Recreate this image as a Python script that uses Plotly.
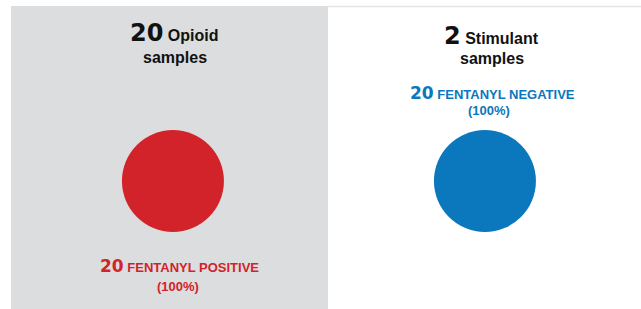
import plotly.graph_objects as go

# ---- data ----
categories = ["Opioid", "Stimulant"]
sample_counts = [20, 2]
fentanyl_counts = [20, 20]
fentanyl_labels = ["FENTANYL POSITIVE", "FENTANYL NEGATIVE"]
fentanyl_pct = [100, 100]
colors = ["#D2232A", "#0B77BD"]
label_position = ["below", "above"]

W, H = 641, 309
PANEL_BG = "#DCDDDF"
TXT_FONT = "Liberation Sans, Arial, sans-serif"
NUM_FONT = "DejaVu Sans, Verdana, sans-serif"
PX = 312.0  # px per category unit

fig = go.Figure()

x_pos = list(range(len(categories)))
ROW = 1 - 181 / H  # vertical level of the circles (paper fraction)

fig.add_trace(go.Scatter(
    x=x_pos, y=[ROW] * len(categories), mode="markers",
    marker=dict(size=102, color=colors, line=dict(width=0)),
    hoverinfo="skip", showlegend=False,
))

shapes = [
    dict(type="rect", xref="x", yref="paper", x0=-0.52, x1=0.497, y0=0, y1=1 - 6 / H,
         fillcolor=PANEL_BG, line=dict(width=0), layer="below"),
    dict(type="line", xref="x", yref="paper", x0=0.497, x1=1.5, y0=1 - 6.5 / H, y1=1 - 6.5 / H,
         line=dict(color="#E4E4E4", width=1.5)),
]


def num(v, size):
    return f"<span style='font-family:{NUM_FONT};font-size:{size}px'>{v}</span>"


title_dx = [2, 7]
title_y = [(33, 57), (36, 58)]
fent_dx = [(7, 5.5), (7.5, 4)]
annotations = []
for i, cat in enumerate(categories):
    xc = x_pos[i] + title_dx[i] / PX
    ya, yb = title_y[i]
    annotations.append(dict(
        x=xc, y=1 - ya / H, xref="x", yref="paper", showarrow=False,
        text=f"<b>{num(sample_counts[i], 24)} {cat}</b>",
        font=dict(family=TXT_FONT, size=16, color="#111111"), yanchor="middle",
    ))
    annotations.append(dict(
        x=xc, y=1 - yb / H, xref="x", yref="paper", showarrow=False,
        text="<b>samples</b>",
        font=dict(family=TXT_FONT, size=16, color="#111111"), yanchor="middle",
    ))
    if label_position[i] == "below":
        y1, y2 = 266, 286
    else:
        y1, y2 = 93, 110
    annotations.append(dict(
        x=x_pos[i] + fent_dx[i][0] / PX, y=1 - y1 / H, xref="x", yref="paper", showarrow=False,
        text=f"<b>{num(fentanyl_counts[i], 17)} {fentanyl_labels[i]}</b>",
        font=dict(family=TXT_FONT, size=13, color=colors[i]), yanchor="middle",
    ))
    annotations.append(dict(
        x=x_pos[i] + fent_dx[i][1] / PX, y=1 - y2 / H, xref="x", yref="paper", showarrow=False,
        text=f"<b>({fentanyl_pct[i]}%)</b>",
        font=dict(family=TXT_FONT, size=13, color=colors[i]), yanchor="middle",
    ))

fig.update_layout(
    width=W, height=H,
    margin=dict(l=11, r=0, t=0, b=0),
    paper_bgcolor="white", plot_bgcolor="rgba(0,0,0,0)",
    xaxis=dict(range=[-0.519, -0.519 + 630 / PX], visible=False, fixedrange=True),
    yaxis=dict(range=[0, 1], visible=False, fixedrange=True),
    shapes=shapes, annotations=annotations,
)

fig.write_html("out.html", post_script="document.body.style.margin='0';",
               config={"displayModeBar": False})
